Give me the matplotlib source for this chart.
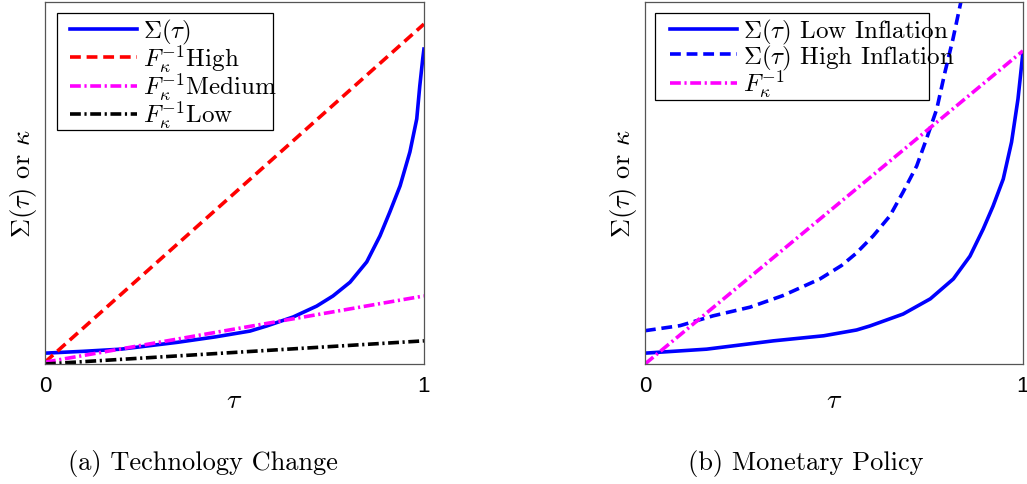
import matplotlib
matplotlib.use("Agg")
import matplotlib.pyplot as plt
from matplotlib.patches import Rectangle

plt.rcParams['mathtext.fontset'] = 'cm'

# ---- data (y scaled 0..1) ----
# (a) Technology Change
tau_a = [0.0, 0.1, 0.2, 0.35, 0.45, 0.541, 0.585, 0.655, 0.717, 0.76, 0.805, 0.849,
         0.884, 0.910, 0.937, 0.963, 0.981, 0.989, 0.997, 1.0]
sigma_a = [0.030, 0.035, 0.041, 0.060, 0.075, 0.091, 0.105, 0.130, 0.160, 0.188, 0.226, 0.282,
           0.354, 0.420, 0.492, 0.586, 0.677, 0.768, 0.845, 0.870]

tau_line = [0.0, 1.0]
f_high = [0.005, 0.939]
f_medium = [0.005, 0.188]
f_low = [0.0, 0.064]

# (b) Monetary Policy
tau_low = [0.0, 0.163, 0.34, 0.473, 0.56, 0.595, 0.683, 0.755, 0.816, 0.860, 0.895,
           0.921, 0.948, 0.970, 0.987, 0.994, 1.0]
sigma_lowinf = [0.030, 0.041, 0.064, 0.078, 0.094, 0.105, 0.138, 0.180, 0.235, 0.298, 0.373,
                0.436, 0.511, 0.613, 0.732, 0.800, 0.860]

tau_high = [0.0, 0.093, 0.180, 0.278, 0.365, 0.463, 0.520, 0.558, 0.604, 0.648, 0.683,
            0.719, 0.745, 0.772, 0.794, 0.815, 0.833, 0.840]
sigma_highinf = [0.092, 0.106, 0.133, 0.157, 0.189, 0.235, 0.272, 0.305, 0.354, 0.409, 0.475,
                 0.547, 0.622, 0.704, 0.807, 0.898, 0.986, 1.020]

f_monetary = [0.0, 0.865]

x_ticks = [0, 1]
x_tick_labels = ['0', '1']
captions = ['(a) Technology Change', '(b) Monetary Policy']

fig = plt.figure(figsize=(10.27, 4.85), dpi=100)
ax1 = fig.add_axes([0.0438, 0.2474, 0.3690, 0.7464])
ax2 = fig.add_axes([0.6280, 0.2474, 0.3680, 0.7464])

lw = 2.6
dash = (3, 1.6)
dashdot = (3, 1.0, 0.6, 1.0)
ax1.plot(tau_a, sigma_a, color='#0000ff', lw=lw, label=r'$\Sigma(\tau)$')
ax1.plot(tau_line, f_high, color='#ff0000', lw=lw, dashes=dash, label=r'$F_\kappa^{-1}$High')
ax1.plot(tau_line, f_medium, color='#ff00ff', lw=lw, dashes=dashdot, label=r'$F_\kappa^{-1}$Medium')
ax1.plot(tau_line, f_low, color='black', lw=lw, dashes=dashdot, label=r'$F_\kappa^{-1}$Low')

ax2.plot(tau_low, sigma_lowinf, color='#0000ff', lw=lw, label=r'$\Sigma(\tau)$ Low Inflation')
ax2.plot(tau_high, sigma_highinf, color='#0000ff', lw=lw, dashes=dash, label=r'$\Sigma(\tau)$ High Inflation')
ax2.plot(tau_line, f_monetary, color='#ff00ff', lw=lw, dashes=dashdot, label=r'$F_\kappa^{-1}$')

boxes = [(0.032, 0.646, 0.570, 0.324), (0.026, 0.729, 0.725, 0.241)]

for ax, box in zip([ax1, ax2], boxes):
    ax.set_xlim(0, 1)
    ax.set_ylim(0, 1)
    ax.set_xticks(x_ticks)
    ax.set_xticklabels(x_tick_labels, fontsize=16, family='Liberation Sans')
    ax.set_yticks([])
    ax.tick_params(axis='x', length=0, pad=8)
    for s in ax.spines.values():
        s.set_linewidth(0.9)
        s.set_color('#555555')
    ax.set_xlabel(r'$\tau$', fontsize=20, labelpad=-8)
    ax.set_ylabel(r'$\Sigma(\tau)$ or $\kappa$', fontsize=19, labelpad=4, family='cmr10')
    leg = ax.legend(loc='upper left', bbox_to_anchor=(0.066, 0.958),
                    prop={'family': 'cmr10', 'size': 18},
                    frameon=False, handlelength=2.68, handletextpad=0.25,
                    labelspacing=-0.15, borderpad=0, borderaxespad=0)
    ax.add_patch(Rectangle((box[0], box[1]), box[2], box[3], transform=ax.transAxes,
                           fill=False, edgecolor='black', lw=0.9, zorder=1))

fig.text(0.198, 0.045, captions[0], fontsize=19, family='cmr10', ha='center', va='center')
fig.text(0.785, 0.045, captions[1], fontsize=19, family='cmr10', ha='center', va='center')

fig.savefig('out.png', dpi=100)
